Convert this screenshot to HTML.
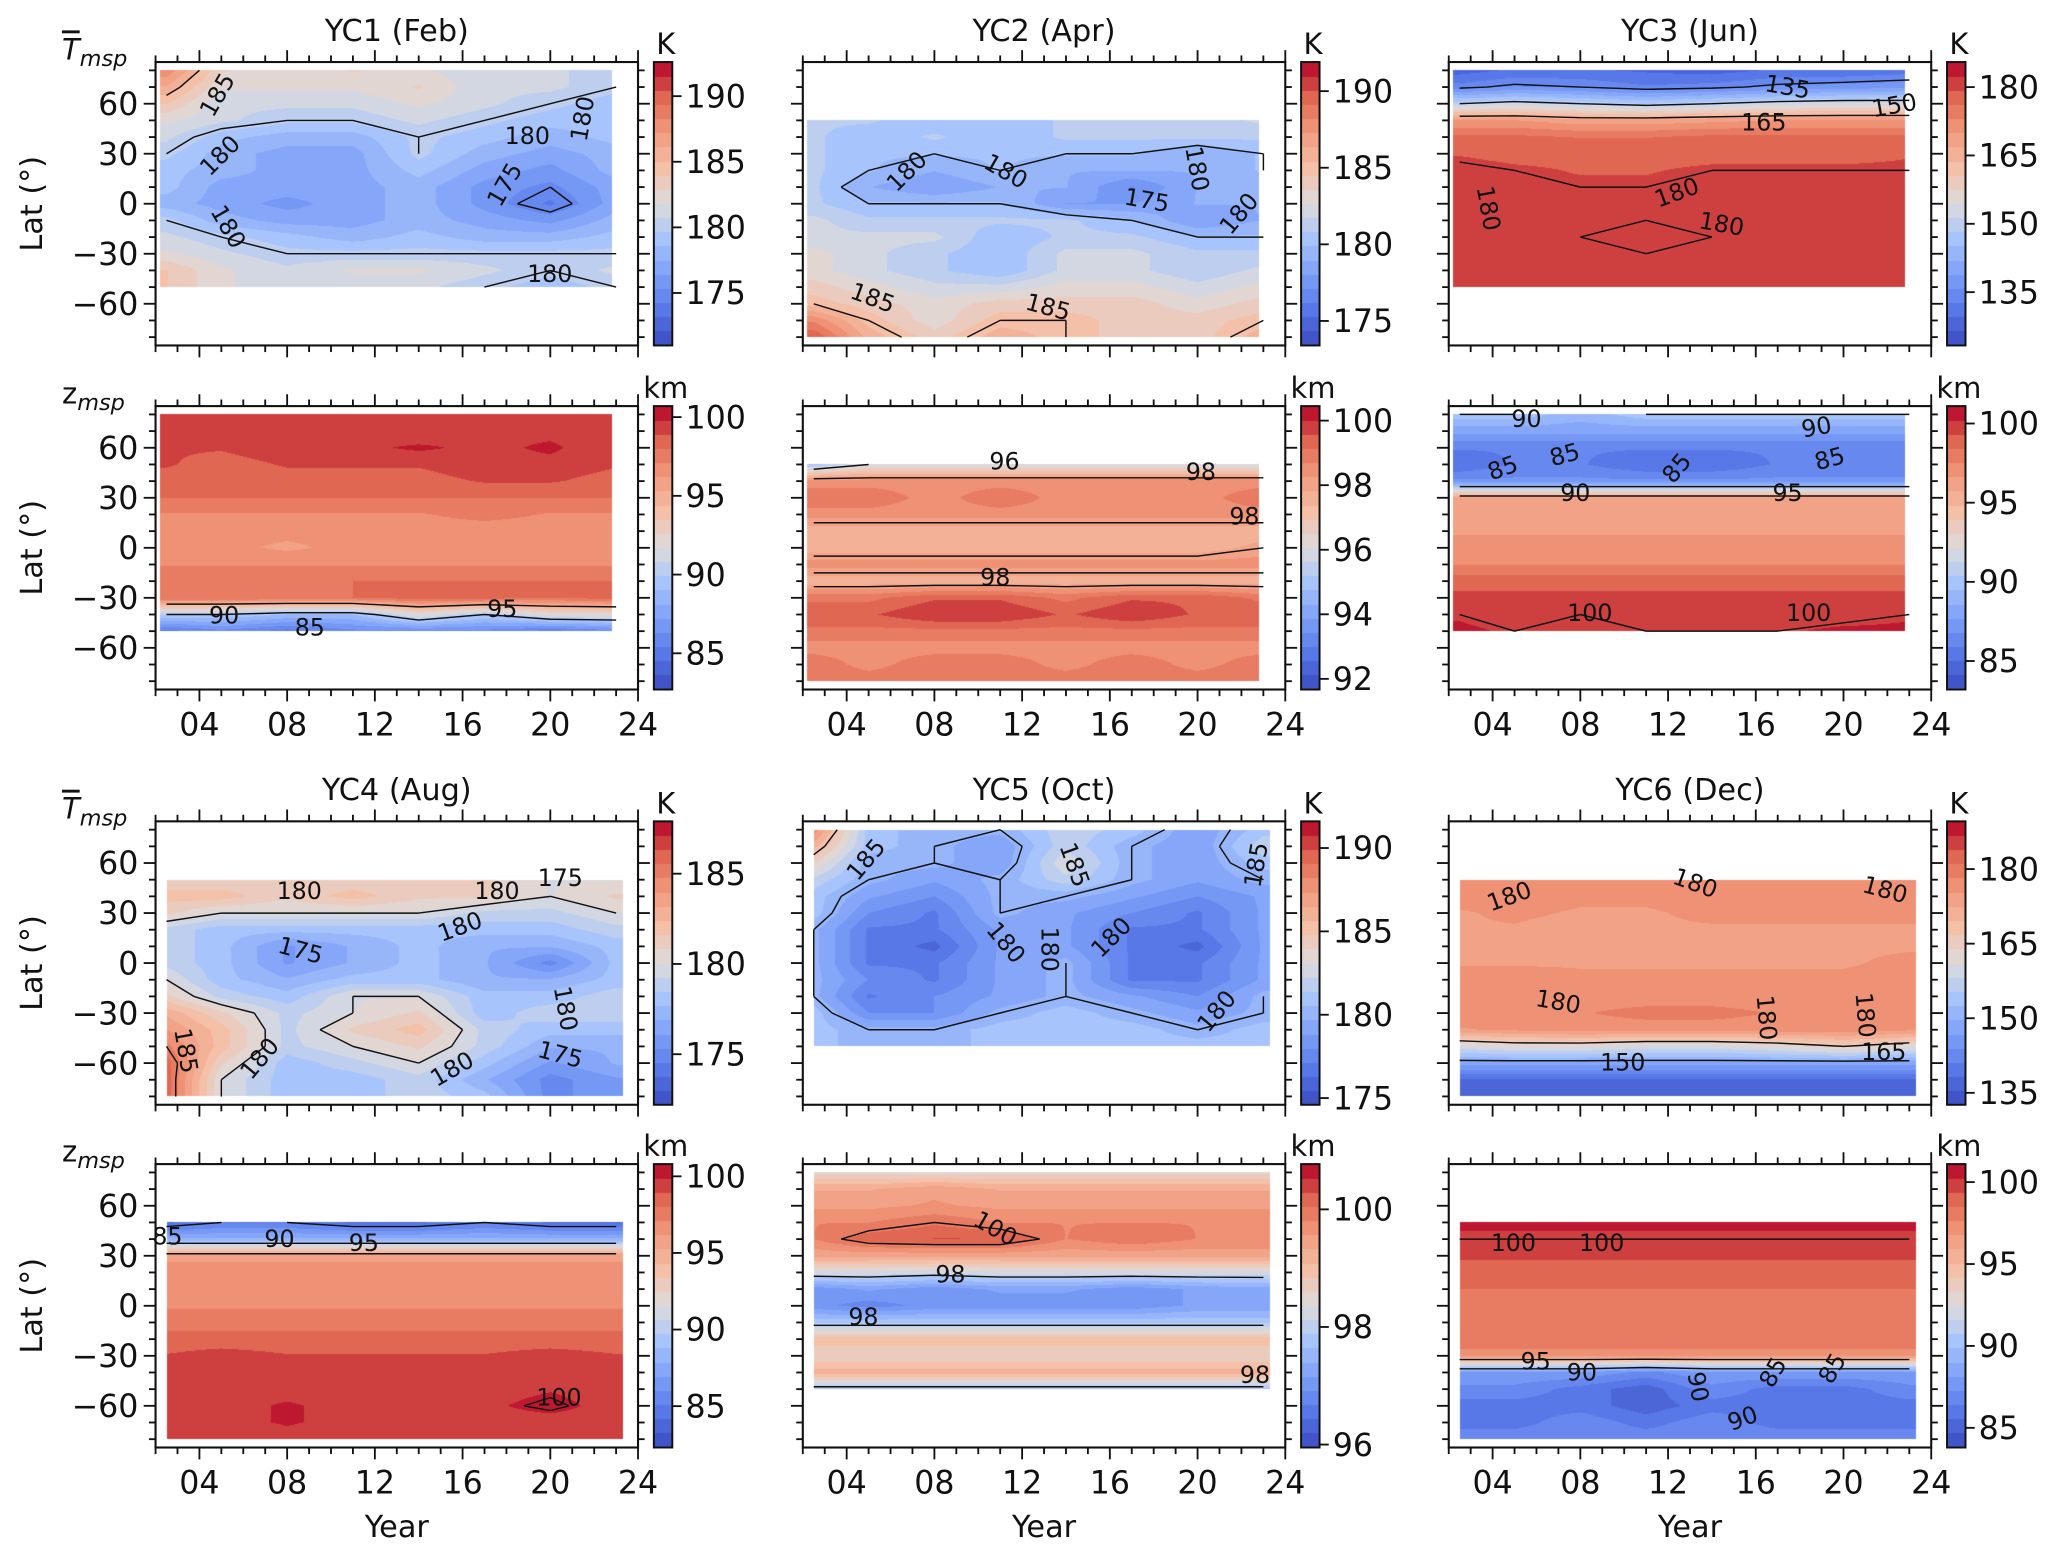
<!DOCTYPE html>
<html><head><meta charset="utf-8">
<style>
html,body{margin:0;padding:0;background:#fff;}
#wrap{position:relative;width:2067px;height:1557px;overflow:hidden;}
#fld{position:absolute;left:0;top:0;}
#svg{position:absolute;left:0;top:0;}
text{font-family:"DejaVu Sans","Liberation Sans",sans-serif;fill:#111;}
</style></head>
<body>
<div id="wrap">
<canvas id="fld" width="2067" height="1557"></canvas>
<svg id="svg" width="2067" height="1557" viewBox="0 0 1568 1181" xmlns="http://www.w3.org/2000/svg"></svg>
</div>
<script>
// ---- data ----
const years = [2.5,5,8,11,14,17,20,23];
const latTop80 = [80,70,60,50,40,30,20,10,0,-10,-20,-30,-40,-50];
const latTop50 = [50,40,30,20,10,0,-10,-20,-30,-40,-50,-60,-70,-80];
const xTicks = ["04","08","12","16","20","24"];
const xTickVals = [4,8,12,16,20,24];
const yTickVals = [60,30,0,-30,-60];
const titles = ["YC1 (Feb)","YC2 (Apr)","YC3 (Jun)","YC4 (Aug)","YC5 (Oct)","YC6 (Dec)"];

const p1 = [[188,183,182,183,182,181,181,180],[186,182,182,182,183,181,181,180],[184,181,181,181,182,181,180,179],[182,181,180,180,181,180,179,179],[181,179,178,178,180,179,178,179],[180,178,177,177,180,178,177,178],[179,178,177,177,179,177,176,178],[179,177,177,177,178,176,175,177],[178,177,176,177,178,176,174,177],[180,178,177,177,178,177,176,178],[181,180,179,178,179,178,178,179],[182,181,180,180,180,180,180,180],[184,182,181,182,182,181,180,181],[184,182,181,181,181,180,179,180]];
const p2 = [[181,181,180,180,181,181,181,182],[181,180,181,180,181,181,181,181],[181,180,180,180,180,180,179,180],[181,180,179,180,179,179,179,180],[181,179,178,179,179,177,179,179],[181,180,180,180,178,178,179,179],[182,181,181,181,181,180,178,179],[182,182,182,180,181,181,180,180],[183,182,181,180,182,182,181,181],[183,182,181,180,182,182,181,182],[184,183,182,182,183,183,182,183],[185,184,183,184,184,184,183,184],[188,185,183,185,185,184,184,185],[190,186,184,186,185,184,184,186]];
const p3 = [[128,130,130,129,128,130,130,131],[134,136,135,133,134,136,137,138],[150,152,150,148,150,152,153,153],[170,170,168,168,169,170,170,170],[177,177,176,176,177,177,177,177],[179,178,178,178,178,178,178,179],[181,180,179,179,180,180,180,180],[181,180,180,180,180,180,180,180],[182,181,180,180,180,180,181,181],[181,181,181,180,180,181,181,180],[180,180,180,179.5,180,181,180,180],[180,180,181,180,181,181,181,180],[181,180,181,180,181,181,181,181],[182,181,181,181,181,182,181,182]];
const p4 = [[99,99,99,99.5,99,99,99.5,99],[99,99,99.5,99.5,99,99.5,99.5,99],[99,99,99.5,99.5,100,99.5,100,99],[99,98.5,99,99,99,99.5,99.5,99],[98.5,98.5,98.5,98.5,98.5,99,99,98.5],[98,98,98,98,98,98,98,98],[97,97,97,97,97,97.5,97,97],[96.5,96.5,96.5,96.5,96.5,96.5,96.5,96.5],[96.5,96.5,96,96.5,96.5,96.5,96.5,96.5],[97,97,97,97,97,97,97,97],[98,98,98,98,98,98,98,98],[98,98,98,98,98.5,98.5,98,98.5],[90,90,89,89,92,90,92,92],[85,86,85,86,86,86,85,86]];
const p5 = [[95,96,96,96,96,96,96,96],[98.5,98.5,98.5,98.5,98.5,98.5,98.5,98.5],[99,99,98.5,99,98.5,98.5,98.5,99],[98.5,98.5,98.5,98.5,98.5,98.5,98.5,98.5],[97.5,97.5,97.5,97.5,97.5,97.5,97.5,97.5],[97.5,97.5,97.5,97.5,97.5,97.5,97.5,98],[98.5,98.5,98.5,98.5,98.5,98.5,98.5,98.5],[97.5,97.5,97.5,97.5,97.5,97.5,97.5,97.5],[99,99,99.5,99.5,99,99.5,99.5,99],[99.5,99.5,100,100,99.5,100,99.5,99.5],[99,99,99,99,99,99,99,99],[98.5,98.5,98.5,98.5,98.5,98.5,98.5,98.5],[99,98.5,99,99,98.5,99,98.5,99],[99,99,99,99,99,99,99,99]];
const p6 = [[90,90,89,90,90,90,90,90],[88,88,88,88,88,88,88,88],[86,86,86,86,86,86,86,86],[85,86,86,85,85,86,86,86],[87,87,87,87,87,87,87,87],[96,96,96,96,96,96,96,96],[96.5,96.5,96.5,96.5,96.5,96.5,96.5,96.5],[96.5,96.5,96.5,96.5,96.5,96.5,96.5,96.5],[97,97,97,97,97,97,97,97],[97.5,97.5,97.5,97.5,97.5,97.5,97.5,97.5],[99,99,99,99,99,99,99,99],[99.5,99.5,99.5,99.5,99.5,99.5,99.5,99.5],[100,99.5,100,99.5,99.5,99.5,99.5,100],[100.5,100,100,100,100,100,100.5,100.5]];
const p7 = [[181,181,181,181,181,181,180,180],[182,182,181,182,181,181,180,181],[181,180,180,180,180,179,179,180],[179,178,178,178,178,178,178,179],[179,178,176,177,178,177,177,178],[179,178,176,177,178,177,175,178],[180,178,177,178,178,177,177,178],[181,179,178,180,180,178,178,179],[183,181,179,180,181,178,179,179],[184,182,179,181,182,179,178,178],[185,182,179,180,181,179,177,177],[186,181,178,179,180,178,176,177],[186,180,178,178,179,177,175,176],[186,180,178,178,179,178,175,176]];
const p8 = [[188,181,180,180,182,181,179,181],[186,181,180,179,182,180,179,182],[184,180,180,179,183,180,179,181],[182,180,179,180,182,180,179,180],[181,179,178,180,180,179,178,179],[181,178,177,180,179,178,177,179],[180,177,177,179,179,177,177,179],[180,177,176,179,179,177,176,179],[180,177,177,179,180,177,177,179],[180,178,177,179,180,177,177,179],[180,177,178,179,180,179,178,180],[181,178,178,180,181,180,179,180],[181,180,180,181,181,181,180,181],[181,180,180,181,181,181,181,181]];
const p9 = [[178,178,178,178,178,178,178,178],[177,177,176,176,177,177,177,177],[175,176,175,175,176,176,176,176],[175,175,174,175,175,175,175,175],[175,175,175,175,175,175,175,175],[175,175,175,175,175,175,175,176],[177,177,176,176,176,176,176,177],[178,178,177,177,177,177,177,177],[178,178,178,179,179,178,178,178],[175,176,177,177,177,177,177,176],[160,162,162,160,160,162,165,162],[148,148,148,148,148,148,148,148],[138,138,138,138,138,138,138,138],[137,137,137,137,138,136,137,137]];
const p10 = [[84,85,85,84,84,85,84,84],[88,88,88,88,88,88,88,88],[96,96,96,96,96,96,96,96],[96.5,96.5,96.5,96.5,96.5,96.5,96.5,96.5],[97,97,97,97,97,97,97,97],[97,97,97,97,97,97,97,97],[97.5,97.5,97.5,97.5,97.5,97.5,97.5,97.5],[98.5,98.5,98.5,98.5,98.5,98.5,98.5,98.5],[99,99.3,99,99,99,99,99.3,99],[99.4,99.5,99.7,99.5,99.4,99.4,99.5,99.4],[99.5,99.8,99.8,99.8,99.5,99.5,99.8,99.5],[99.5,99.8,99.9,99.8,99.5,99.7,100.2,99.5],[99.5,99.8,99.9,99.8,99.5,99.5,99.5,99.5],[99.5,99.5,99.8,99.5,99.5,99.5,99.5,99.5]];
const p11 = [[98.5,98.5,98.5,98.5,98.5,98.5,98.5,98.5],[99.3,99.3,99.5,99.3,99.3,99.3,99.3,99.3],[99.5,99.5,99.6,99.5,99.5,99.5,99.5,99.5],[99.8,99.8,100,99.8,99.8,99.8,99.8,99.8],[99.8,100.2,100.3,100.3,99.8,100,99.8,99.8],[99.4,99.4,99.4,99.4,99.4,99.4,99.4,99.4],[98.3,98.3,98.2,98.3,98.3,98.3,98.3,98.3],[97.0,97.2,97.0,97.2,97.2,97.0,97.2,97.3],[97.0,96.8,97.0,97.0,97.0,97.0,97.2,97.2],[97.8,97.8,97.8,97.8,97.8,97.8,97.8,97.8],[99.0,99.0,99.0,99.0,99.0,99.0,99.0,99.0],[98.6,98.6,98.6,98.6,98.6,98.6,98.6,98.6],[99.2,99.2,99.2,99.2,99.2,99.2,99.2,99.2],[97.8,97.8,97.8,97.8,97.8,97.8,97.8,97.8]];
const p12 = [[100.5,100.5,100.5,100.5,100.5,100.5,100.5,100.5],[100,100,100,100,100,100,100,100],[99.5,99.5,99.5,99.5,99.5,99.5,99.5,99.5],[99,99,99,99,99,99,99,99],[98.5,98.5,98.5,98.5,98.5,98.5,98.5,98.5],[98.5,98.5,98.5,98.5,98.5,98.5,98.5,98.5],[98.5,98.5,98.5,98.5,98.5,98.5,98.5,98.5],[98.5,98.5,98.5,98.5,98.5,98.5,98.5,98.5],[97,97,97,97,97,97,97,97],[88,88,88,87,88,88,88,88],[87,87,86,85,87,86,86,87],[86,86,86,85,86,86,86,86],[86,86,87,86,87,86,86,86],[87,87,87,87,87,87,87,87]];

const cbRanges = [[171,192.6],[173.4,191.9],[123.3,185.5],[82.7,100.7],[91.67,100.45],[83.2,101.1],[172.2,187.9],[174.6,191.6],[132.6,189.6],[82.3,100.8],[95.95,100.77],[83.8,101.1]];
const cbTicks = [[175,180,185,190],[175,180,185,190],[135,150,165,180],[85,90,95,100],[92,94,96,98,100],[85,90,95,100],[175,180,185],[175,180,185,190],[135,150,165,180],[85,90,95,100],[96,98,100],[85,90,95,100]];
const contourLevels = [[175,180,185],[175,180,185],[135,150,165,180],[85,90,95,100],[96,98],[85,90,95,100],[175,180,185],[180,185],[150,165,180],[85,90,95,100],[98,100],[85,90,95,100]];

const clabels = [
 [[165,72,"185",-60],[167,118,"180",-45],[400,103,"180",0],[442,90,"180",-80],[383,140,"175",-60],[173,172,"180",60],[417,208,"180",0]],
 [[688,130,"180",-45],[763,130,"180",30],[908,128,"180",80],[870,152,"175",10],[940,162,"180",-50],[662,226,"185",20],[795,233,"185",15]],
 [[1356,66,"135",10],[1437,80,"150",-10],[1338,93,"165",0],[1129,158,"180",80],[1272,146,"180",-20],[1306,170,"180",10]],
 [[170,467,"90",0],[235,476,"85",0],[381,462,"95",0]],
 [[762,350,"96",0],[911,358,"98",0],[944,392,"98",0],[755,438,"98",0]],
 [[1158,318,"90",0],[1378,324,"90",-10],[1140,355,"85",-20],[1187,345,"85",-15],[1272,355,"85",-50],[1388,348,"85",-15],[1195,374,"90",0],[1356,374,"95",0],[1206,465,"100",0],[1372,465,"100",0]],
 [[227,676,"180",0],[377,676,"180",0],[425,666,"175",0],[349,703,"180",-20],[228,721,"175",15],[429,765,"180",80],[141,797,"185",80],[197,803,"180",-50],[343,811,"180",-30],[425,800,"175",15]],
 [[657,652,"185",-50],[815,656,"185",70],[953,656,"185",-80],[763,715,"180",50],[796,720,"180",90],[843,711,"180",-45],[923,767,"180",-50]],
 [[1145,680,"180",-20],[1286,670,"180",20],[1430,675,"180",15],[1182,760,"180",10],[1340,772,"180",85],[1415,770,"180",85],[1429,798,"165",0],[1231,806,"150",0]],
 [[127,938,"85",0],[212,940,"90",0],[276,943,"95",0],[424,1060,"100",0]],
 [[755,932,"100",30],[721,967,"98",0],[655,999,"98",0],[952,1043,"98",0]],
 [[1148,943,"100",0],[1215,943,"100",0],[1165,1033,"95",0],[1200,1041,"90",0],[1288,1052,"90",80],[1345,1041,"85",-60],[1390,1038,"85",-60],[1322,1076,"90",-20]]
];

// ---- layout ----
const S = 2067/1568;
const colL = [118,609,1099];
const rowT = [47,308,623,883];
const W = 366, H = 215;
const fields = [p1,p2,p3,p4,p5,p6,p7,p8,p9,p10,p11,p12];
const NS = "http://www.w3.org/2000/svg";
const svg = document.getElementById('svg');
const ctx = document.getElementById('fld').getContext('2d');

const cmStops = [[0,59,76,192],[0.125,88,120,232],[0.25,126,160,248],[0.375,168,196,252],[0.5,221,220,220],[0.625,244,192,168],[0.75,242,155,125],[0.875,224,104,82],[1,180,4,38]];
function cmap(t){
  t = Math.max(0,Math.min(1,t));
  for(let i=1;i<cmStops.length;i++){
    if(t<=cmStops[i][0]){
      const a=cmStops[i-1], b=cmStops[i], f=(t-a[0])/(b[0]-a[0]);
      return [a[1]+(b[1]-a[1])*f, a[2]+(b[2]-a[2])*f, a[3]+(b[3]-a[3])*f];
    }
  }
  return [180,4,38];
}
function el(tag, attrs, parent){
  const e = document.createElementNS(NS, tag);
  for(const k in attrs) e.setAttribute(k, attrs[k]);
  (parent||svg).appendChild(e);
  return e;
}
function txt(x,y,s,size,anchor,parent){
  const t = el('text',{x:x,y:y,'font-size':size,'text-anchor':anchor||'middle'},parent);
  t.textContent = s;
  return t;
}

const img = ctx.createImageData(2067,1557);
for(let i=0;i<img.data.length;i+=4){img.data[i]=255;img.data[i+1]=255;img.data[i+2]=255;img.data[i+3]=255;}
function putPix(x,y,c){const k=(y*2067+x)*4;img.data[k]=c[0];img.data[k+1]=c[1];img.data[k+2]=c[2];}

for(let p=0;p<12;p++){
  const blockRow = Math.floor(p/6);
  const col = p%3;
  const sub = Math.floor((p%6)/3);
  const row = blockRow*2 + sub;
  const ax = colL[col], ay = rowT[row];
  const data = fields[p];
  const lats = (p===1||p===4||p===6||p===8||p===9||p===11) ? latTop50 : latTop80;
  const [vmin,vmax] = cbRanges[p];
  const xs = row<2 ? [2.2,22.8] : [2.5,23.3];
  const xpx = v => ax + (v-2)/22*W;
  const ypx = v => ay + (85-v)/170*H;

  const g = el('g',{});
  
  

  const X0 = Math.round(xpx(xs[0])*S), X1 = Math.round(xpx(xs[1])*S);
  const Y0 = Math.round(ypx(lats[0])*S), Y1 = Math.round(ypx(lats[lats.length-1])*S);
  for(let Y=Y0;Y<Y1;Y++){
    const lat = 85 - ((Y+0.5)/S - ay)/H*170;
    let ri = (lats[0]-lat)/10; ri=Math.max(0,Math.min(lats.length-1.0001,ri));
    const r0=Math.floor(ri), rf=ri-r0;
    for(let X=X0;X<X1;X++){
      const yr = 2 + ((X+0.5)/S - ax)/W*22;
      let ci=0;
      if(yr<=years[0]) ci=0; else if(yr>=years[years.length-1]) ci=years.length-1.0001;
      else { for(let j=1;j<years.length;j++){ if(yr<=years[j]){ ci=j-1+(yr-years[j-1])/(years[j]-years[j-1]); break; } } }
      const c0=Math.floor(ci), cf=ci-c0;
      const c1=Math.min(c0+1,years.length-1), r1=Math.min(r0+1,lats.length-1);
      const v = (data[r0][c0]*(1-cf)+data[r0][c1]*cf)*(1-rf) + (data[r1][c0]*(1-cf)+data[r1][c1]*cf)*rf;
      const lv = Math.floor((v-vmin)/(vmax-vmin)*20)/20+0.025;
      putPix(X,Y,cmap(lv));
    }
  }
  const cbx = ax+378, cbw=14;
  const CX0=Math.round(cbx*S), CX1=Math.round((cbx+cbw)*S), CY0=Math.round(ay*S), CY1=Math.round((ay+H)*S);
  for(let Y=CY0;Y<CY1;Y++){
    const t = 1-(Y-CY0)/(CY1-CY0);
    const c = cmap(Math.floor(t*20)/20+0.025);
    for(let X=CX0;X<CX1;X++) putPix(X,Y,c);
  }

  let d = '';
  contourLevels[p].forEach(L=>{
    for(let r=0;r<lats.length-1;r++){
      for(let c=0;c<years.length-1;c++){
        const cs = [[r,c],[r,c+1],[r+1,c+1],[r+1,c]];
        const pts = [];
        for(let e=0;e<4;e++){
          const a=cs[e], b=cs[(e+1)%4];
          const va=data[a[0]][a[1]]-L, vb=data[b[0]][b[1]]-L;
          if((va<0)!==(vb<0)){
            const f = va/(va-vb);
            const yr = years[a[1]]+(years[b[1]]-years[a[1]])*f;
            const lt = lats[a[0]]+(lats[b[0]]-lats[a[0]])*f;
            pts.push([xpx(yr).toFixed(1), ypx(lt).toFixed(1)]);
          }
        }
        for(let k=0;k+1<pts.length;k+=2){
          d += 'M'+pts[k][0]+' '+pts[k][1]+'L'+pts[k+1][0]+' '+pts[k+1][1];
        }
      }
    }
  });
  const cl = el('path',{d:d,fill:'none',stroke:'#111','stroke-width':1.1},g);
  
  

  const fr = el('rect',{x:ax,y:ay,width:W,height:H,fill:'none',stroke:'#111','stroke-width':1.6},g);
  
  
  for(let yv=2; yv<=24; yv++){
    const major = yv%4===0;
    const L = major?9:5, x=xpx(yv);
    el('line',{x1:x,y1:ay+H,x2:x,y2:ay+H+L,stroke:'#111','stroke-width':1.4},g);
    el('line',{x1:x,y1:ay,x2:x,y2:ay-L,stroke:'#111','stroke-width':1.4},g);
  }
  if(sub===1){
    xTickVals.forEach((v,i)=>{
      const t = txt(xpx(v), ay+H+35, xTicks[i], 24, 'middle', g);
      
      
    });
  }
  for(let lv=-80; lv<=80; lv+=10){
    const major = lv%30===0;
    const L = major?9:5, y=ypx(lv);
    el('line',{x1:ax,y1:y,x2:ax-L,y2:y,stroke:'#111','stroke-width':1.4},g);
    el('line',{x1:ax+W,y1:y,x2:ax+W+L,y2:y,stroke:'#111','stroke-width':1.4},g);
  }
  if(col===0){
    yTickVals.forEach(v=>{
      const t = txt(ax-13, ypx(v)+8.5, v<0?'\u2212'+(-v):String(v), 24, 'end', g);
      
      
    });
    const yl = txt(0,0,'Lat (\u00B0)',23,'middle',g);
    yl.setAttribute('transform','translate(32,'+(ay+H/2)+') rotate(-90)');
    
    
    const q = el('text',{x:47,y:ay-2,'font-size':22},g);
    
    
    if(sub===0){
      const a = el('tspan',{'font-style':'italic','text-decoration':'overline'},q); a.textContent='T';
    } else {
      const a = el('tspan',{},q); a.textContent='z';
    }
    const b = el('tspan',{'font-style':'italic','font-size':17,dy:5},q); b.textContent='msp';
  }
  if(sub===0){
    const tt = txt(ax+W/2, ay-16, titles[blockRow*3+col], 23, 'middle', g);
    
    
  }
  if(row===3){
    const xl = txt(ax+W/2, 1166, 'Year', 23, 'middle', g);
    
    
  }
  clabels[p].forEach(c=>{
    const t = txt(c[0],c[1]+6,c[2],18,'middle',g);
    t.setAttribute('transform','rotate('+c[3]+' '+c[0]+' '+c[1]+')');
    
    
  });
  const cb = el('rect',{x:cbx,y:ay,width:cbw,height:H,fill:'none',stroke:'#111','stroke-width':1.5},g);
  
  
  cbTicks[p].forEach(v=>{
    const y = ay + (vmax-v)/(vmax-vmin)*H;
    el('line',{x1:cbx+cbw,y1:y,x2:cbx+cbw+7,y2:y,stroke:'#111','stroke-width':1.4},g);
    const t = txt(cbx+cbw+10, y+8.5, String(v), 24, 'start', g);
    
    
  });
  const u = txt(cbx+cbw/2+2, ay-6, sub===0?'K':'km', 22, 'middle', g);
  
  
}
ctx.putImageData(img,0,0);
</script>
</body></html>
